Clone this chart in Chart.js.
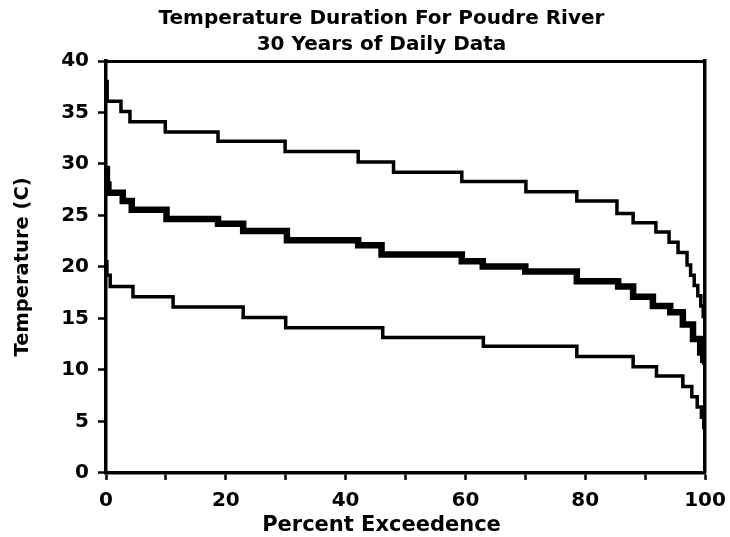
<!DOCTYPE html>
<html><head><meta charset="utf-8">
<script src="https://cdn.jsdelivr.net/npm/chart.js@4/dist/chart.umd.min.js"></script>
<style>html,body{margin:0;padding:0;background:#fff}</style>
</head><body>
<canvas id="c" width="730" height="537"></canvas>
<script>
const titleLines = ["Temperature Duration For Poudre River", "30 Years of Daily Data"];
const xAxisTitle = "Percent Exceedence";
const yAxisTitle = "Temperature (C)";

// Upper curve: step start (percent exceedence) and level (C)
const upperX = [0, 0.2, 2.5, 4.0, 9.9, 18.7, 29.9, 42.1, 48.0, 59.4, 70.1, 78.6, 85.3, 88.0, 91.8, 94.0, 95.5, 97.0, 97.6, 98.2, 98.8, 99.3, 99.7, 100];
const upperY = [38, 36.1, 35.1, 34.1, 33.1, 32.2, 31.2, 30.2, 29.2, 28.3, 27.3, 26.4, 25.2, 24.3, 23.4, 22.4, 21.4, 20.2, 19.2, 18.2, 17.2, 16.2, 15.2, 14];

// Middle curve
const middleX = [0, 0.15, 0.4, 2.8, 4.3, 10.1, 18.7, 22.9, 30.2, 42.1, 46.0, 59.4, 62.9, 70.0, 78.6, 85.5, 88.0, 91.3, 94.2, 96.3, 98.0, 99.2, 99.7, 100];
const middleY = [29.5, 28, 27.2, 26.4, 25.55, 24.65, 24.2, 23.5, 22.6, 22.1, 21.2, 20.55, 20.05, 19.55, 18.6, 18.1, 17.1, 16.2, 15.6, 14.4, 13, 11.7, 11, 10.5];

// Lower curve
const lowerX = [0, 0.15, 0.7, 4.5, 11.2, 22.9, 30.0, 46.2, 63.0, 78.6, 88.0, 91.9, 96.3, 97.8, 98.7, 99.4, 99.8, 100];
const lowerY = [20.5, 19.2, 18.1, 17.1, 16.1, 15.1, 14.1, 13.15, 12.3, 11.3, 10.3, 9.4, 8.4, 7.4, 6.4, 5.4, 4.4, 3.9];

const xTickStep = 10, xLabelStep = 20, yTickStep = 5;

function pts(xs, ys){ return xs.map((x,i)=>({x:x, y:ys[i]})); }

const FONT = "'DejaVu Sans', sans-serif";

const shiftTitles = {
  id: 'shiftTitles',
  afterLayout(chart){
    (chart.boxes || []).forEach(b => {
      const o = b.options;
      if (o && o.text !== undefined && (b === chart.titleBlock || o.text === xAxisTitle)) {
        const target = 381.5;
        const c = (b.left + b.right) / 2;
        b.left += target - c; b.right += target - c;
      }
    });
  }
};

function ds(data, w){
  return {data: data, borderColor:'#000', backgroundColor:'#000', borderWidth:w,
    pointRadius:0, stepped:'before', tension:0, fill:false,
    borderJoinStyle:'miter', borderCapStyle:'butt'};
}

new Chart(document.getElementById('c'), {
  type: 'line',
  data: { datasets: [
    ds(pts(upperX, upperY), 3.5),
    ds(pts(middleX, middleY), 6.5),
    ds(pts(lowerX, lowerY), 3.5)
  ]},
  plugins: [shiftTitles],
  options: {
    responsive: false,
    animation: false,
    devicePixelRatio: 1,
    layout: { padding: { left: 0, right: 25, top: 0, bottom: 0 } },
    plugins: {
      legend: { display: false },
      tooltip: { enabled: false },
      title: {
        display: true,
        text: titleLines,
        color: '#000',
        font: { family: FONT, weight: 'bold', size: 20, lineHeight: 1.3 },
        padding: { top: 6, bottom: 3 }
      },
      subtitle: {
        display: true,
        position: 'bottom',
        text: xAxisTitle,
        color: '#000',
        font: { family: FONT, weight: 'bold', size: 21, lineHeight: 1.1 },
        padding: { top: 0, bottom: 0 }
      }
    },
    scales: {
      x: {
        type: 'linear', position: 'bottom', min: 0, max: 100,
        afterFit: s => { s.height = 41; s.paddingRight = 0; s.paddingLeft = 0; },
        ticks: {
          stepSize: xTickStep, autoSkip: false, maxRotation: 0, color: '#000',
          padding: 9,
          font: { family: FONT, weight: 'bold', size: 20 },
          callback: v => (v % xLabelStep === 0 ? String(v) : '')
        },
        grid: { display: true, drawOnChartArea: false, drawTicks: true, tickLength: 7, tickWidth: 2.5, tickColor: '#000', color: '#000' },
        border: { display: true, color: '#000', width: 3.5 }
      },
      x2: {
        type: 'linear', position: 'top', min: 0, max: 100,
        afterFit: s => { s.height = 0; s.paddingRight = 0; s.paddingLeft = 0; },
        ticks: { display: false },
        grid: { display: false, drawTicks: false },
        border: { display: true, color: '#000', width: 3 }
      },
      y: {
        type: 'linear', position: 'left', min: 0, max: 40,
        afterFit: s => { s.width = 106; },
        ticks: {
          stepSize: yTickStep, color: '#000', padding: 9,
          font: { family: FONT, weight: 'bold', size: 20 }
        },
        grid: { display: true, drawOnChartArea: false, drawTicks: true, tickLength: 8, tickWidth: 2.5, tickColor: '#000', color: '#000' },
        border: { display: true, color: '#000', width: 3.5 },
        title: { display: true, text: yAxisTitle, color: '#000', padding: { top: 12, bottom: 0 },
          font: { family: FONT, weight: 'bold', size: 19.5, lineHeight: 1.1 } }
      },
      y2: {
        type: 'linear', position: 'right', min: 0, max: 40,
        afterFit: s => { s.width = 0; },
        ticks: { display: false },
        grid: { display: false, drawTicks: false },
        border: { display: true, color: '#000', width: 3.5 }
      }
    }
  }
});
</script>
</body></html>
